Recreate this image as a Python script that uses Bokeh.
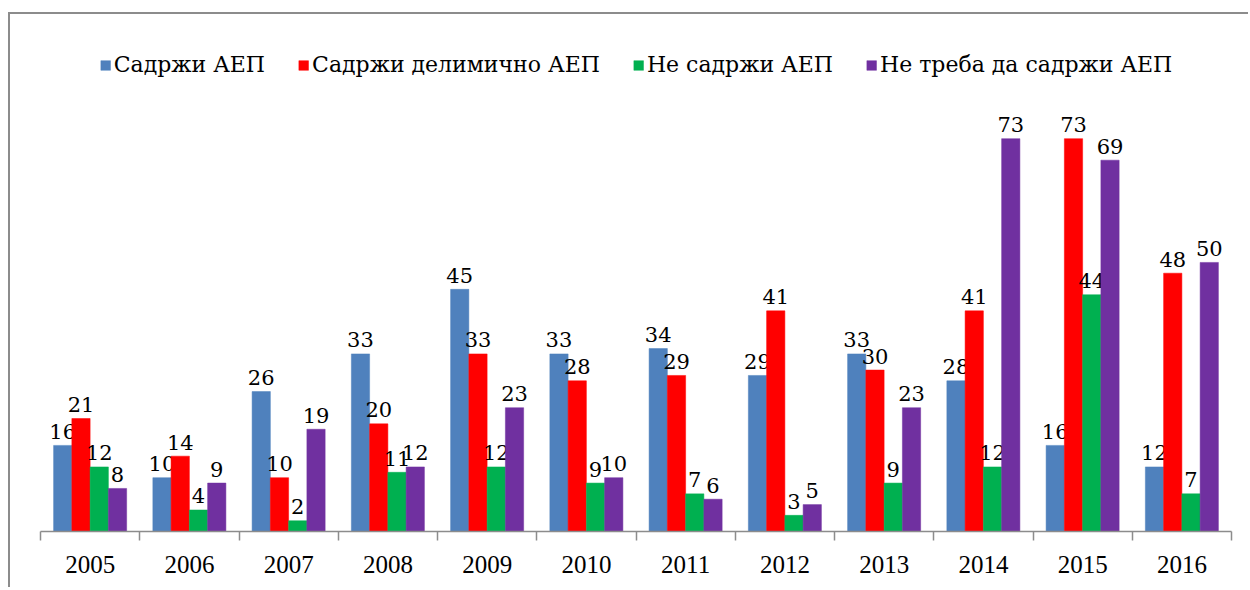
from bokeh.plotting import figure
from bokeh.models import (ColumnDataSource, Range1d, LinearAxis,
                          FixedTicker, Legend, LegendItem)
from bokeh.core.properties import value
from bokeh.transform import dodge
from bokeh.embed import file_html
from bokeh.resources import INLINE

years = ["2005", "2006", "2007", "2008", "2009", "2010", "2011", "2012",
         "2013", "2014", "2015", "2016"]
series_names = ["Садржи АЕП", "Садржи делимично АЕП", "Не садржи АЕП",
                "Не треба да садржи АЕП"]
sadrzi = [16, 10, 26, 33, 45, 33, 34, 29, 33, 28, 16, 12]
delimicno = [21, 14, 10, 20, 33, 28, 29, 41, 30, 41, 73, 48]
ne_sadrzi = [12, 4, 2, 11, 12, 9, 7, 3, 9, 12, 44, 7]
ne_treba = [8, 9, 19, 12, 23, 10, 6, 5, 23, 73, 69, 50]
colors = ["#4F81BD", "#FF0000", "#00B050", "#7030A0"]

centers = [i + 0.5 for i in range(len(years))]
cols = ["s0", "s1", "s2", "s3"]
source = ColumnDataSource(dict(
    xc=centers, s0=sadrzi, s1=delimicno, s2=ne_sadrzi, s3=ne_treba,
    t0=[str(v) for v in sadrzi], t1=[str(v) for v in delimicno],
    t2=[str(v) for v in ne_sadrzi], t3=[str(v) for v in ne_treba],
))

FONT = "Liberation Serif"
LABEL_FONT = "DejaVu Serif"

p = figure(width=1240, height=575, x_range=Range1d(0, len(years)),
           y_range=Range1d(0, 94.4), output_backend="svg",
           toolbar_location=None, x_axis_location=None, y_axis_location=None,
           min_border_left=30, min_border_right=19, min_border_top=9,
           min_border_bottom=58)
p.styles = {"border-left": "2px solid #8c8c8c", "border-top": "2px solid #8c8c8c",
            "margin-top": "12px", "margin-left": "8px"}
p.xgrid.visible = False
p.ygrid.visible = False
p.outline_line_color = None

axis = LinearAxis(ticker=FixedTicker(ticks=centers,
                                     minor_ticks=list(range(len(years) + 1))),
                  major_label_overrides={c: y for c, y in zip(centers, years)})
axis.axis_line_color = "#8c8c8c"
axis.axis_line_width = 1.5
axis.major_tick_line_color = None
axis.minor_tick_line_color = "#8c8c8c"
axis.minor_tick_line_width = 1.5
axis.minor_tick_out = 9
axis.minor_tick_in = 0
axis.major_label_text_font = FONT
axis.major_label_text_font_size = "25px"
axis.major_label_text_color = "#000000"
axis.major_label_standoff = 15
p.add_layout(axis, "below")

offsets = [-0.276, -0.092, 0.092, 0.276]
renderers = []
for i, (c, col, off) in enumerate(zip(cols, colors, offsets)):
    r = p.vbar(x=dodge("xc", off), top=c, width=0.184,
               source=source, fill_color=col, line_color=col, line_width=0.5)
    renderers.append(r)
    p.text(x=dodge("xc", off), y=c, text="t" + str(i), source=source,
           text_align="center", text_baseline="alphabetic", y_offset=-14,
           text_font=value(LABEL_FONT), text_font_size=value("21px"),
           text_color="#000000")

legend = Legend(items=[LegendItem(label=n, renderers=[r])
                       for n, r in zip(series_names, renderers)],
                orientation="horizontal", location="top_center",
                margin=29, padding=0, spacing=32, label_standoff=3,
                glyph_width=12, glyph_height=12,
                label_text_font=LABEL_FONT,
                label_text_font_size="22px",
                label_text_color="#000000", border_line_color=None,
                background_fill_alpha=0)
p.add_layout(legend)

open("out.html", "w").write(file_html(p, INLINE))
